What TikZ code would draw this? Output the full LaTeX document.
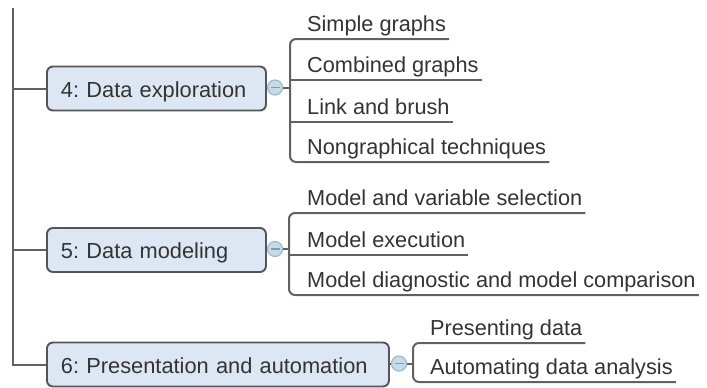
\documentclass[tikz,border=0pt]{standalone}
\usepackage{fontspec}
\setmainfont{Liberation Sans}
\frenchspacing
\definecolor{boxfill}{HTML}{DDE7F3}
\definecolor{boxline}{HTML}{555555}
\definecolor{wire}{HTML}{616161}
\definecolor{ink}{HTML}{333333}
\definecolor{knobfill}{HTML}{C6DBE8}
\definecolor{knobline}{HTML}{9DBACB}
\definecolor{knobbar}{HTML}{7E9DB3}
\begin{document}
\begin{tikzpicture}[x=1pt,y=-1pt,
  topic/.style={draw=boxline, fill=boxfill, line width=1.9pt, rounded corners=6pt,
    anchor=west, minimum height=44pt, inner xsep=14pt, align=left,
    text height=22pt, text depth=5pt, text=ink,
    font=\fontsize{21.8}{26}\selectfont},
  leaf/.style={anchor=base west, inner sep=0pt, text=ink,
    font=\fontsize{21.7}{26}\selectfont},
  knob/.style={circle, draw=knobline, fill=knobfill, line width=1.2pt,
    minimum size=15pt, inner sep=0pt,
    path picture={\draw[knobbar, line width=1.2pt]
      ([xshift=3pt]path picture bounding box.west) --
      ([xshift=-3pt]path picture bounding box.east);}},
  wireline/.style={draw=wire, line width=2pt},
  bracket/.style={wireline, rounded corners=6pt}]
\useasboundingbox (0,0) rectangle (707,388);

% main topics
\node[topic, text width=191pt] (b4) at (46,88.5) {4: Data exploration};
\node[topic, text width=191pt] (b5) at (46,250) {5: Data modeling};
\node[topic, text width=314pt] (b6) at (46,364.5) {6: Presentation and automation};

% trunk on the left
\coordinate (top) at (13,8);
\coordinate (t4) at (13,88.5);
\coordinate (t5) at (13,250);
\coordinate (t6) at (13,364.5);
\draw[wireline] (top) -- (t6) -- (b6.west);
\draw[wireline] (t4) -- (b4.west);
\draw[wireline] (t5) -- (b5.west);

% collapse knobs
\node[knob] (c4) at (275,87.5) {};
\node[knob] (c5) at (275,249) {};
\node[knob] (c6) at (399,363.5) {};
\draw[wireline] (b4.east |- c4) -- (c4.west);
\draw[wireline] (b5.east |- c5) -- (c5.west);
\draw[wireline] (b6.east |- c6) -- (c6.west);

% subtopics of 4
\node[leaf] (l41) at (307,31) {Simple graphs};
\node[leaf] (l42) at (307,72) {Combined graphs};
\node[leaf] (l43) at (307,114) {Link and brush};
\node[leaf] (l44) at (307,154) {Nongraphical techniques};
\coordinate (k41) at (290,39);
\coordinate (k42) at (290,80);
\coordinate (k43) at (290,122);
\coordinate (k44) at (290,162);
\coordinate (j4) at (290,87.5);
\draw[bracket] ([xshift=3pt]l41.east |- k41) -- (k41) -- (k44) -- ([xshift=3pt]l44.east |- k44);
\draw[wireline] (k42) -- ([xshift=3pt]l42.east |- k42);
\draw[wireline] (k43) -- ([xshift=3pt]l43.east |- k43);
\draw[wireline] (c4.east) -- (j4);

% subtopics of 5
\node[leaf] (l51) at (307,205) {Model and variable selection};
\node[leaf] (l52) at (307,247) {Model execution};
\node[leaf] (l53) at (307,287) {Model diagnostic and model comparison};
\coordinate (k51) at (289,213);
\coordinate (k52) at (289,255);
\coordinate (k53) at (289,295);
\coordinate (j5) at (289,249);
\draw[bracket] ([xshift=3pt]l51.east |- k51) -- (k51) -- (k53) -- ([xshift=3pt]l53.east |- k53);
\draw[wireline] (k52) -- ([xshift=3pt]l52.east |- k52);
\draw[wireline] (c5.east) -- (j5);

% subtopics of 6
\node[leaf] (l61) at (430,335) {Presenting data};
\node[leaf] (l62) at (430,374) {Automating data analysis};
\coordinate (k61) at (413,343);
\coordinate (k62) at (413,382);
\coordinate (j6) at (413,363.5);
\draw[bracket] ([xshift=3pt]l61.east |- k61) -- (k61) -- (k62) -- ([xshift=3pt]l62.east |- k62);
\draw[wireline] (c6.east) -- (j6);
\end{tikzpicture}
\end{document}
